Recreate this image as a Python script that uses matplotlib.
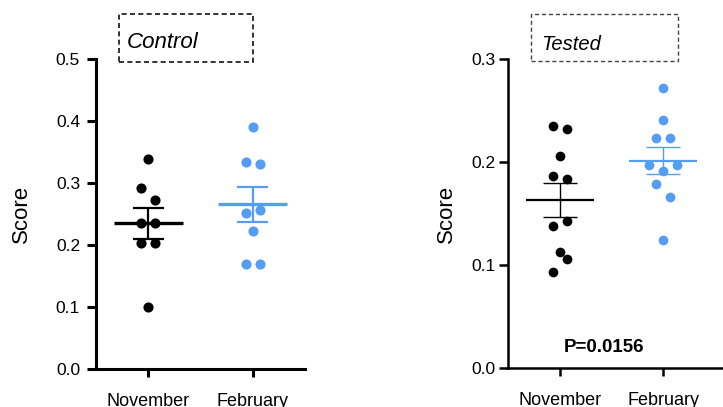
import numpy as np
import matplotlib
matplotlib.use("Agg")
import matplotlib.pyplot as plt
from matplotlib.patches import Rectangle

plt.rcParams['font.family'] = ['Liberation Sans', 'DejaVu Sans']

groups = ["November", "February"]

# Control panel scores
control_nov = [0.338, 0.292, 0.273, 0.236, 0.236, 0.203, 0.203, 0.100]
control_feb = [0.391, 0.334, 0.330, 0.256, 0.251, 0.223, 0.170, 0.170]
# Tested panel scores
tested_nov = [0.235, 0.232, 0.2055, 0.186, 0.1835, 0.143, 0.1375, 0.113, 0.1055, 0.093]
tested_feb = [0.272, 0.2405, 0.2233, 0.2233, 0.197, 0.1916, 0.197, 0.179, 0.166, 0.124]

# scatter slots (column index within the swarm)
control_nov_slot = [0, -1, 1, -1, 1, -1, 1, 0]
control_feb_slot = [0, -1, 1, 1, -1, 0, -1, 1]
tested_nov_slot = [-1, 1, 0, -1, 1, 1, -1, 0, 1, -1]
tested_feb_slot = [0, 0, -1, 1, -2, 0, 2, -1, 1, 0]

p_text = "P=0.0156"

BLACK = "#000000"
BLUE = "#559DF2"

W, H = 723, 407
fig = plt.figure(figsize=(W / 100, H / 100), dpi=100)


def px_rect(x0, y0, x1, y1):
    # pixel box (top-left origin) -> figure fraction rect
    return [x0 / W, 1 - y1 / H, (x1 - x0) / W, (y1 - y0) / H]


def draw_panel(ax, series, slots, colors, step, ms, mean_lw, err_lw, mean_hw, cap_hw):
    for i, (vals, sl, c) in enumerate(zip(series, slots, colors)):
        vals = np.array(vals)
        xs = i + np.array(sl) * step
        ax.plot(xs, vals, 'o', color=c, ms=ms, mec='none', zorder=2, clip_on=False)
        m = vals.mean()
        sem = vals.std(ddof=1) / np.sqrt(len(vals))
        ax.hlines(m, i - mean_hw, i + mean_hw, color=c, lw=mean_lw, zorder=3)
        ax.vlines(i, m - sem, m + sem, color=c, lw=err_lw, zorder=3)
        ax.hlines([m - sem, m + sem], i - cap_hw, i + cap_hw, color=c, lw=err_lw, zorder=3)


def style_axes(ax, spine_lw, ypad, ylabel_x):
    for s in ['top', 'right']:
        ax.spines[s].set_visible(False)
    for s in ['left', 'bottom']:
        ax.spines[s].set_linewidth(spine_lw)
    ax.set_xticks([0, 1])
    ax.set_xticklabels(groups, fontsize=13)
    ax.tick_params(axis='x', length=6, width=spine_lw, pad=11.5)
    ax.tick_params(axis='y', length=6.5, width=spine_lw, pad=ypad, labelsize=12.5)
    ax.set_ylabel("Score", fontsize=16)
    ax.yaxis.set_label_coords(ylabel_x, 0.5)


# Left: Control
ax1 = fig.add_axes(px_rect(96, 59, 305, 369))
draw_panel(ax1, [control_nov, control_feb], [control_nov_slot, control_feb_slot],
           [BLACK, BLUE], 0.067, 7.3, 2.4, 1.6, 0.33, 0.15)
ax1.set_xlim(-0.5, 1.5)
ax1.set_ylim(0, 0.5)
ax1.set_yticks([0.0, 0.1, 0.2, 0.3, 0.4, 0.5])
ax1.set_yticklabels(["0.0", "0.1", "0.2", "0.3", "0.4", "0.5"])
style_axes(ax1, 2.2, 5, -64 / 209)

# Right: Tested
ax2 = fig.add_axes(px_rect(508, 59, 723, 368))
draw_panel(ax2, [tested_nov, tested_feb], [tested_nov_slot, tested_feb_slot],
           [BLACK, BLUE], 0.068, 7.0, 1.6, 1.0, 0.33, 0.165)
ax2.set_xlim(-0.505, 1.58)
ax2.set_ylim(0, 0.3)
ax2.set_yticks([0.0, 0.1, 0.2, 0.3])
ax2.set_yticklabels(["0.0", "0.1", "0.2", "0.3"])
style_axes(ax2, 1.8, 2.5, -51 / 215)
ax2.text(0.43, 0.016, p_text, fontsize=13.5, fontweight='bold', ha='center', va='baseline')

# dashed title boxes
r1 = px_rect(119, 14, 253, 62)
fig.add_artist(Rectangle(r1[:2], r1[2], r1[3], transform=fig.transFigure,
                         fill=False, ec='#111111', lw=1.2, ls=(0, (3, 2))))
fig.text(126.5 / W, 1 - 48 / H, "Control", fontsize=16, style='italic', va='baseline')

r2 = px_rect(531, 14, 678, 61)
fig.add_artist(Rectangle(r2[:2], r2[2], r2[3], transform=fig.transFigure,
                         fill=False, ec='#444444', lw=1.0, ls=(0, (3, 2))))
fig.text(541.5 / W, 1 - 50 / H, "Tested", fontsize=14.5, style='italic', va='baseline')

fig.savefig("out.png", dpi=100)
